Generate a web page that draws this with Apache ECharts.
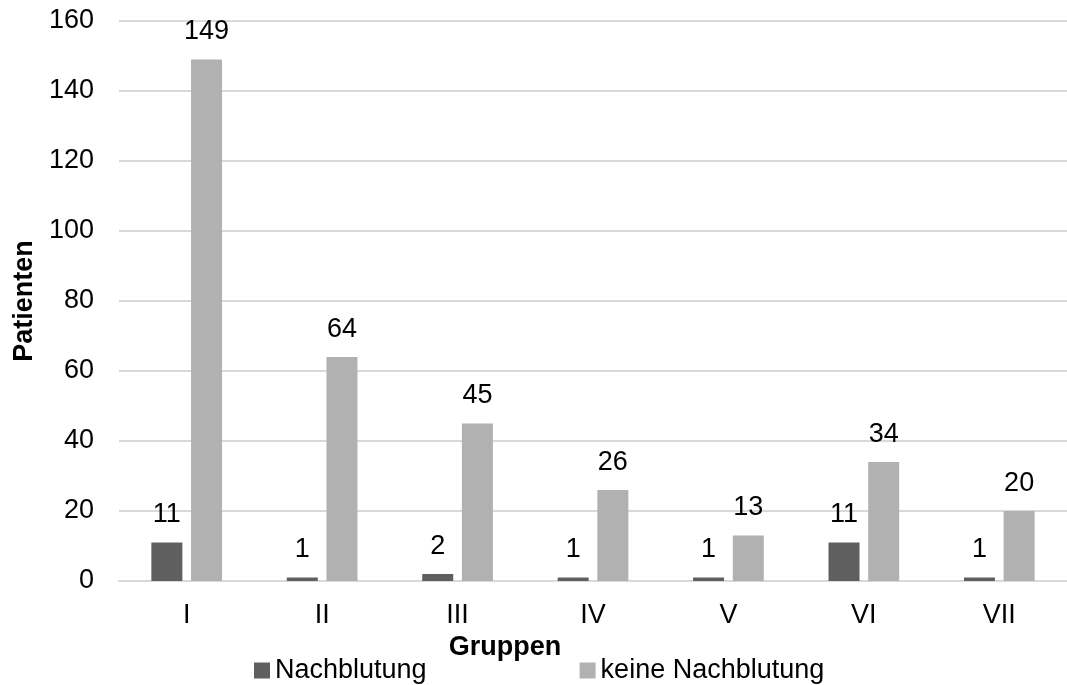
<!DOCTYPE html>
<html>
<head>
<meta charset="utf-8">
<style>
  html, body { margin: 0; padding: 0; background: #ffffff; }
  #chart { width: 1067px; height: 685px; }
</style>
<script src="https://cdn.jsdelivr.net/npm/echarts@6/dist/echarts.min.js"></script>
</head>
<body>
<div id="chart"></div>
<script>
// Patient counts per group, with and without post-operative bleeding
const groups = ['I', 'II', 'III', 'IV', 'V', 'VI', 'VII'];
const nachblutung = [11, 1, 2, 1, 1, 11, 1];
const keineNachblutung = [149, 64, 45, 26, 13, 34, 20];
const seriesNames = ['Nachblutung', 'keine Nachblutung'];
const yTicks = { min: 0, max: 160, step: 20 };

const FONT = '"Liberation Sans", Arial, Helvetica, sans-serif';
const FS = 27;

const chart = echarts.init(document.getElementById('chart'), null, { renderer: 'canvas' });

const labelStyle = {
  show: true,
  position: 'top',
  distance: 14,
  color: '#000000',
  fontFamily: FONT,
  fontSize: FS
};

chart.setOption({
  animation: false,
  backgroundColor: '#ffffff',
  grid: { left: 119, top: 21, width: 960, bottom: 104, containLabel: false },
  legend: {
    data: seriesNames,
    left: 254,
    top: 657,
    padding: 0,
    itemWidth: 16,
    itemHeight: 16,
    itemGap: 153,
    icon: 'rect',
    textStyle: { color: '#000000', fontFamily: FONT, fontSize: FS }
  },
  xAxis: {
    type: 'category',
    data: groups,
    name: 'Gruppen',
    nameLocation: 'middle',
    nameGap: 47,
    nameTextStyle: {
      color: '#000000', fontFamily: FONT, fontSize: FS, fontWeight: 'bold',
      padding: [0, 176, 0, 0]
    },
    axisLine: { show: true, lineStyle: { color: '#d9d9d9', width: 2 } },
    axisTick: { show: false },
    axisLabel: { color: '#000000', fontFamily: FONT, fontSize: FS, margin: 21 }
  },
  yAxis: {
    type: 'value',
    min: yTicks.min,
    max: yTicks.max,
    interval: yTicks.step,
    name: 'Patienten',
    nameLocation: 'middle',
    nameGap: 80,
    nameRotate: 90,
    nameTextStyle: { color: '#000000', fontFamily: FONT, fontSize: FS, fontWeight: 'bold' },
    axisLine: { show: false },
    axisTick: { show: false },
    splitLine: { lineStyle: { color: '#d9d9d9', width: 2 } },
    axisLabel: { color: '#000000', fontFamily: FONT, fontSize: FS, margin: 25 }
  },
  series: [
    {
      name: seriesNames[0],
      type: 'bar',
      data: nachblutung,
      barWidth: 31,
      barGap: '28%',
      itemStyle: { color: '#5f5f5f' },
      label: labelStyle
    },
    {
      name: seriesNames[1],
      type: 'bar',
      data: keineNachblutung,
      barWidth: 31,
      barGap: '28%',
      itemStyle: { color: '#b1b1b1' },
      label: labelStyle
    }
  ]
});
</script>
</body>
</html>
